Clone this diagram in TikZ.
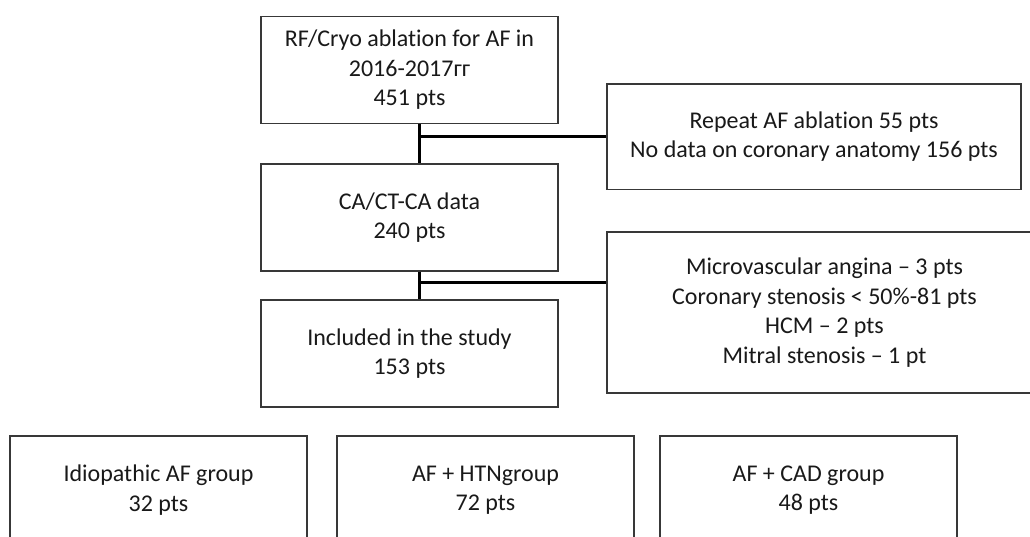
\documentclass[tikz,border=0pt]{standalone}
\usepackage{fontspec}
\setmainfont{Carlito}[Ligatures=NoCommon]
\begin{document}
\begin{tikzpicture}[x=1pt,y=-1pt,
  box/.style={draw=black!78, line width=1.3pt, fill=white, inner sep=0pt,
    align=center, text=black!90, font=\fontsize{24}{29.5}\selectfont},
  conn/.style={draw=black, line width=3pt}]
\useasboundingbox (0,0) rectangle (1030,537);
\clip (0,0) rectangle (1030,537);
\fill[white] (0,0) rectangle (1030,537);
\node[box, minimum width=297pt, minimum height=107pt] (abl) at (409.5,70)
  {RF/Cryo ablation for AF in\\2016-2017гг\\451 pts};
\node[box, minimum width=414pt, minimum height=105.5pt] (rep) at (814,136.75)
  {Repeat AF ablation 55 pts\\No data on coronary anatomy 156 pts};
\node[box, minimum width=297pt, minimum height=107pt] (ca) at (409.5,217.5)
  {CA/CT-CA data\\240 pts};
\node[box, minimum width=435pt, minimum height=161pt] (exc) at (824.5,312.5)
  {Microvascular angina – 3 pts\\Coronary stenosis < 50\%-81 pts\\HCM – 2 pts\\Mitral stenosis – 1 pt};
\node[box, minimum width=297pt, minimum height=107pt] (inc) at (409.5,353.5)
  {Included in the study\\153 pts};
\node[box, minimum width=297pt, minimum height=108pt] (g1) at (158.5,490)
  {Idiopathic AF group\\32 pts};
\node[box, minimum width=297pt, minimum height=108pt] (g2) at (485.5,490)
  {AF + HTNgroup\\72 pts};
\node[box, minimum width=297pt, minimum height=108pt] (g3) at (808.5,490)
  {AF + CAD group\\48 pts};
\coordinate (j1) at (419,137);
\coordinate (j2) at (419,282);
\draw[conn] (abl.south -| j1) -- (ca.north -| j1);
\draw[conn] (j1) -- (rep.west |- j1);
\draw[conn] (ca.south -| j2) -- (inc.north -| j2);
\draw[conn] (j2) -- (exc.west |- j2);
\end{tikzpicture}
\end{document}
